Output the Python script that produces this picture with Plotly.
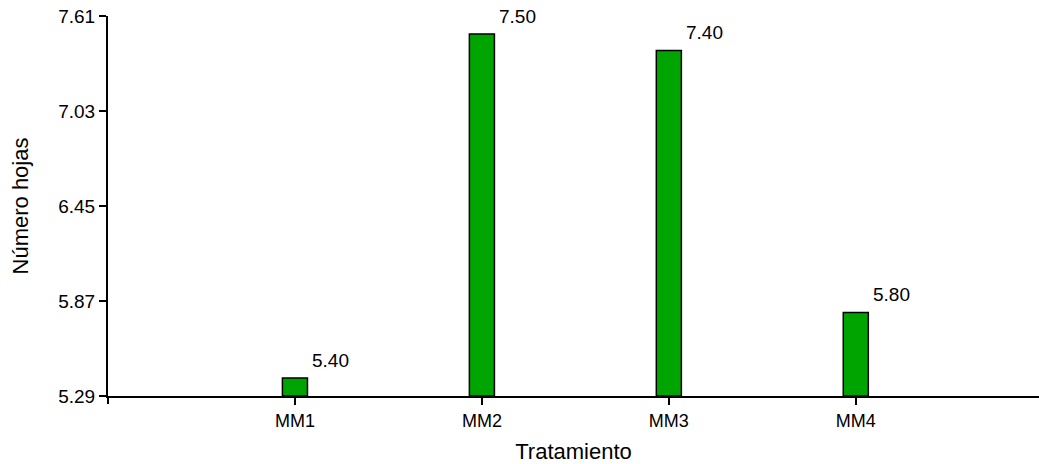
import plotly.graph_objects as go

categories = ["MM1", "MM2", "MM3", "MM4"]
values = [5.40, 7.50, 7.40, 5.80]
labels = ["5.40", "7.50", "7.40", "5.80"]
y_ticks = [5.29, 5.87, 6.45, 7.03, 7.61]
y_tick_text = ["5.29", "5.87", "6.45", "7.03", "7.61"]
y_base = 5.29

FONT = "Arial, Liberation Sans, sans-serif"
bar_w = 0.134
xs = list(range(len(categories)))

fig = go.Figure()
fig.add_trace(go.Bar(
    x=xs, y=[v - y_base for v in values], base=[y_base] * len(values), width=bar_w,
    marker=dict(color="#00a400", line=dict(color="black", width=1.5)),
    hoverinfo="skip",
))

for i, (v, t) in enumerate(zip(values, labels)):
    fig.add_annotation(x=i + bar_w / 2, y=v, text=t, showarrow=False,
                       xanchor="left", yanchor="bottom", xshift=3, yshift=5,
                       font=dict(family=FONT, size=19, color="black"))

fig.add_shape(type="line", xref="paper", yref="paper", x0=0, x1=0, y0=0, y1=-8 / 380,
              line=dict(color="black", width=2))

fig.update_layout(
    width=1039, height=464,
    margin=dict(l=108, r=0, t=16, b=68),
    paper_bgcolor="white", plot_bgcolor="white",
    showlegend=False,
    font=dict(family=FONT, size=18, color="black"),
    xaxis=dict(
        range=[-1, 3.98], tickvals=xs, ticktext=categories,
        showline=True, linecolor="black", linewidth=2,
        ticks="outside", ticklen=7, tickwidth=2, tickcolor="black",
        showgrid=False, zeroline=False,
        title=dict(text="Tratamiento", font=dict(family=FONT, size=22), standoff=16),
        tickfont=dict(family=FONT, size=18),
    ),
    yaxis=dict(
        range=[5.2899, 7.6101], tickvals=y_ticks, ticktext=y_tick_text,
        showline=True, linecolor="black", linewidth=2,
        ticks="outside", ticklen=7, tickwidth=2, tickcolor="black",
        showgrid=False, zeroline=False, ticklabeloverflow="allow",
        title=dict(text="Número hojas", font=dict(family=FONT, size=22), standoff=24),
        tickfont=dict(family=FONT, size=19),
    ),
)

fig.write_html(
    "out.html",
    config={"displayModeBar": False},
    post_script="document.body.style.margin='0';document.body.style.overflow='hidden';",
)
